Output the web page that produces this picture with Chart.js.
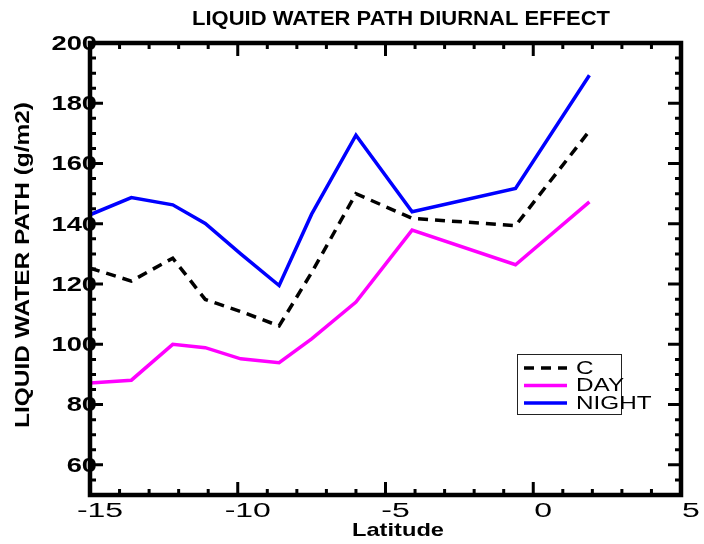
<!DOCTYPE html>
<html>
<head>
<meta charset="utf-8">
<script src="https://cdn.jsdelivr.net/npm/chart.js@4.4.0/dist/chart.umd.min.js"></script>
<style>
  html, body { margin: 0; padding: 0; background: #ffffff; }
  canvas { display: block; }
</style>
</head>
<body>
<canvas id="lwp" width="704" height="544"></canvas>
<script>
// Liquid water path (g/m2) against latitude
const latitude   = [-15.0, -13.6, -12.2, -11.1, -9.9, -8.6, -7.5, -6.0, -4.1, -0.6, 1.9];
const lwpC       = [125.3, 121.0, 128.6, 114.9, 110.9, 106.1, 123.8, 150.0, 141.8, 139.4, 170.8];
const lwpDay     = [87.2, 88.1, 100.0, 98.9, 95.2, 93.9, 101.8, 114.0, 137.9, 126.4, 147.3];
const lwpNight   = [143.0, 148.7, 146.3, 140.1, 130.0, 119.5, 143.2, 169.4, 144.0, 151.7, 189.3];

const seriesNames = ['C', 'DAY', 'NIGHT'];
const xTickValues = [-15, -10, -5, 0, 5];
const yTickValues = [60, 80, 100, 120, 140, 160, 180, 200];

const titleText  = 'LIQUID WATER PATH DIURNAL EFFECT';
const yTitleText = 'LIQUID WATER PATH (g/m2)';
const xTitleText = 'Latitude';

function toPoints(values) {
  return latitude.map((lat, i) => ({ x: lat, y: values[i] }));
}

// text drawn with a horizontal stretch factor
function drawStretched(ctx, text, x, y, font, sx, align) {
  ctx.save();
  ctx.font = font;
  ctx.textBaseline = 'middle';
  const w = ctx.measureText(text).width * sx;
  let left = x;
  if (align === 'center') left = x - w / 2;
  else if (align === 'right') left = x - w;
  ctx.translate(left, y);
  ctx.scale(sx, 1);
  ctx.textAlign = 'left';
  ctx.fillText(text, 0, 0);
  ctx.restore();
}

// text squeezed or stretched to a given width, centred on (x, y)
function drawFitted(ctx, text, x, y, font, width) {
  ctx.save();
  ctx.font = font;
  const sx = width / ctx.measureText(text).width;
  ctx.restore();
  drawStretched(ctx, text, x, y, font, sx, 'center');
}

const framePlugin = {
  id: 'frameAndLabels',
  afterDatasetsDraw(chart) {
    const ctx = chart.ctx;
    const { left, right, top, bottom } = chart.chartArea;
    const xs = chart.scales.x, ys = chart.scales.y;
    ctx.save();
    ctx.fillStyle = '#000';
    ctx.strokeStyle = '#000';

    // box round the plot
    ctx.lineWidth = 4.5;
    ctx.setLineDash([]);
    ctx.strokeRect(left, top, right - left, bottom - top);

    // inward ticks on all four sides
    ctx.lineWidth = 3;
    ctx.lineCap = 'butt';
    ctx.beginPath();
    for (let v = xs.min + 1; v < xs.max; v += 1) {
      const px = xs.getPixelForValue(v);
      const len = (v % 5 === 0) ? 13 : 6;
      ctx.moveTo(px, bottom); ctx.lineTo(px, bottom - len);
      ctx.moveTo(px, top);    ctx.lineTo(px, top + len);
    }
    for (let v = ys.min + 5; v < ys.max; v += 5) {
      const py = ys.getPixelForValue(v);
      const len = (v % 20 === 0) ? 13 : 6;
      ctx.moveTo(left, py);  ctx.lineTo(left + len, py);
      ctx.moveTo(right, py); ctx.lineTo(right - len, py);
    }
    ctx.stroke();

    // tick labels
    xTickValues.forEach(v => {
      drawStretched(ctx, String(v), xs.getPixelForValue(v) + 10, 511,
        '20px "Liberation Sans", Arial, sans-serif', 1.6, 'center');
    });
    yTickValues.forEach(v => {
      drawStretched(ctx, String(v), left + 7, ys.getPixelForValue(v) + 1,
        'bold 21px "Liberation Sans", Arial, sans-serif', 1.3, 'right');
    });

    // titles
    drawFitted(ctx, titleText, 401, 19, 'bold 20px "Liberation Sans", Arial, sans-serif', 418);
    drawFitted(ctx, xTitleText, 398, 531, 'bold 19px "Liberation Sans", Arial, sans-serif', 92);
    ctx.save();
    ctx.translate(23, 265);
    ctx.rotate(-Math.PI / 2);
    drawFitted(ctx, yTitleText, 0, 0, 'bold 21px "Liberation Sans", Arial, sans-serif', 326);
    ctx.restore();

    // legend box
    ctx.lineWidth = 1;
    ctx.strokeStyle = '#222';
    ctx.strokeRect(517.5, 354.5, 104, 60);
    chart.data.datasets.forEach((ds, i) => {
      const y = 368 + i * 17.5;
      ctx.save();
      ctx.strokeStyle = ds.borderColor;
      ctx.lineWidth = ds.borderWidth;
      ctx.setLineDash(ds.borderDash || []);
      ctx.beginPath();
      ctx.moveTo(524, y); ctx.lineTo(567, y);
      ctx.stroke();
      ctx.restore();
      drawStretched(ctx, ds.label, 576, y + 1, '18px "Liberation Sans", Arial, sans-serif', 1.35, 'left');
    });
    ctx.restore();
  }
};

const whiteBackground = {
  id: 'whiteBackground',
  beforeDraw(chart) {
    const ctx = chart.ctx;
    ctx.save();
    ctx.fillStyle = '#ffffff';
    ctx.fillRect(0, 0, chart.width, chart.height);
    ctx.restore();
  }
};

new Chart(document.getElementById('lwp'), {
  type: 'line',
  data: {
    datasets: [
      { label: seriesNames[0], data: toPoints(lwpC),     borderColor: '#000000', borderWidth: 3.5, borderDash: [10, 7] },
      { label: seriesNames[1], data: toPoints(lwpDay),   borderColor: '#ff00ff', borderWidth: 3.5 },
      { label: seriesNames[2], data: toPoints(lwpNight), borderColor: '#0000ff', borderWidth: 3.5 }
    ]
  },
  options: {
    responsive: false,
    animation: false,
    devicePixelRatio: 1,
    layout: { padding: { left: 90, right: 23, top: 43, bottom: 49 } },
    elements: { point: { radius: 0 }, line: { tension: 0, fill: false } },
    scales: {
      x: { type: 'linear', min: -15, max: 5, display: false },
      y: { type: 'linear', min: 50, max: 200, display: false }
    },
    plugins: { legend: { display: false }, title: { display: false }, tooltip: { enabled: false } }
  },
  plugins: [whiteBackground, framePlugin]
});
</script>
</body>
</html>
